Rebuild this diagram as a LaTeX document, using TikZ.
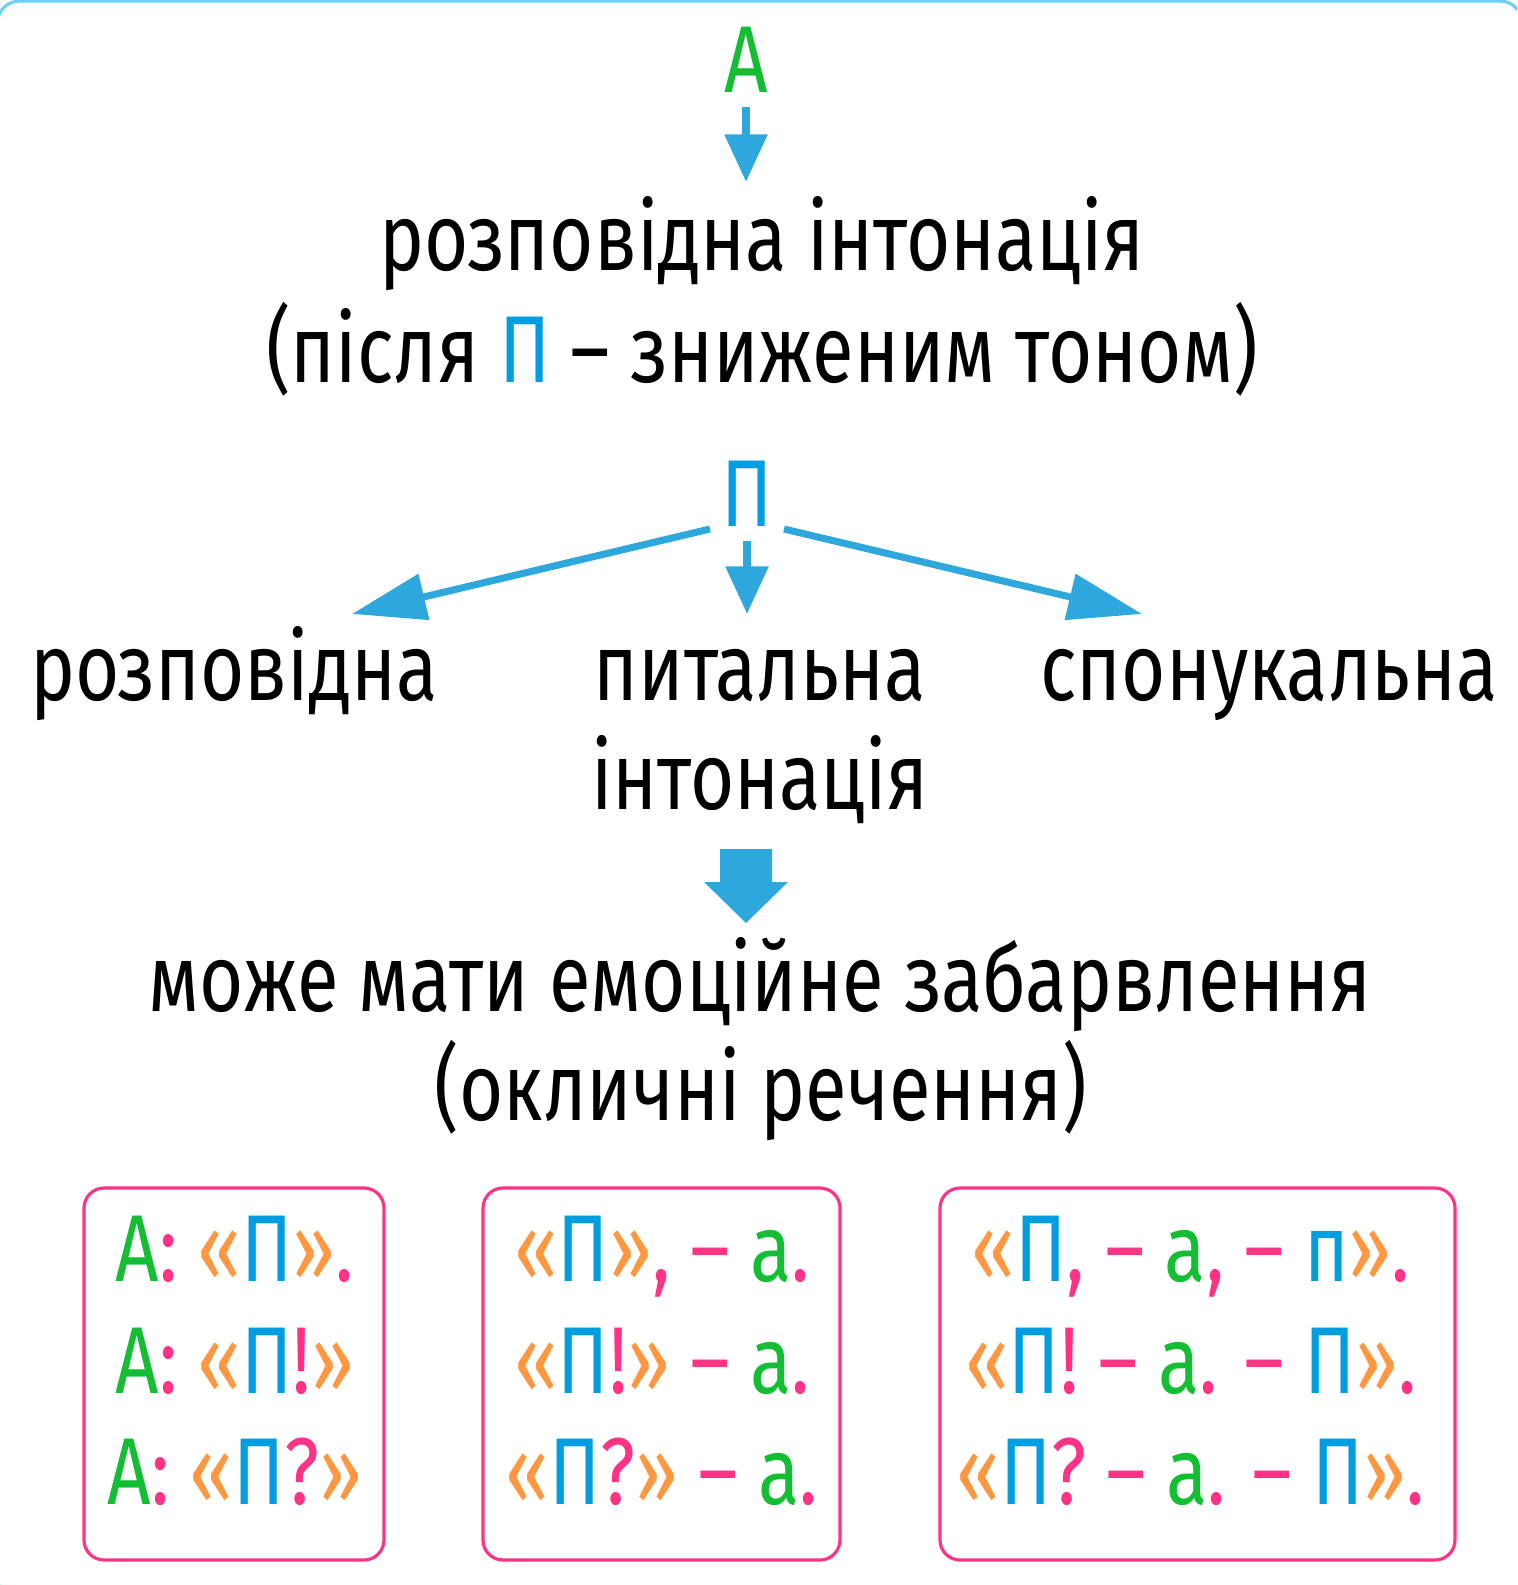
\documentclass[tikz,border=0pt]{standalone}
\usepackage{fontspec}
\setmainfont[FakeStretch=0.80]{Fira Sans}
\usetikzlibrary{arrows.meta}
\definecolor{agreen}{HTML}{14BE32}
\definecolor{pblue}{HTML}{009EE0}
\definecolor{arrblue}{HTML}{2EA8DC}
\definecolor{zpink}{HTML}{FF3385}
\definecolor{lorange}{HTML}{FF9640}
\definecolor{framecol}{HTML}{6ECFF6}
\newcommand\clrA[1]{\textcolor{agreen}{#1}}
\newcommand\clrP[1]{\textcolor{pblue}{#1}}
\newcommand\clrZ[1]{\textcolor{zpink}{#1}}
\newcommand\clrL[1]{\textcolor{lorange}{#1}}
\tikzset{
	txt/.style={inner sep=0pt,anchor=base},
	thinarr/.style={draw=arrblue,line width=2.3pt,-{Triangle[length=13.5pt,width=11.7pt]}},
	widearr/.style={draw=arrblue,line width=2pt,-{Triangle[length=21pt,width=13pt]}},
	exbox/.style={draw=zpink,line width=0.9pt,rounded corners=2mm},
}
\begin{document}
\begin{tikzpicture}[x=0.01cm,y=-0.01cm,line join=round,font=\fontsize{27}{32}\selectfont]
			\useasboundingbox (0,0) rectangle (1517,1585);
			\clip (0,0) rectangle (1517,1585);
			\draw[framecol,line width=0.9pt,rounded corners=2.2mm] (-2.5,1) rectangle (1522,1600);
			\node[txt] (aA) at (746,93) {\clrA{А}};
			\node[txt] (rozp) at (762,271) {розповідна інтонація};
			\node[txt] (pisl) at (762,382) {(після \clrP{П} – зниженим тоном)};
			\node[txt] (pp) at (747,526) {\clrP{П}};
			\node[txt] (rzl) at (234,700) {розповідна};
			\node[txt] (pyt) at (760,700) {питальна};
			\node[txt] (ints) at (760,809) {інтонація};
			\node[txt] (spn) at (1269,700) {спонукальна};
			\node[txt] (mozh) at (760,1011) {може мати емоційне забарвлення};
			\node[txt] (okl) at (761,1120) {(окличні речення)};
			\draw[thinarr] ([yshift=-0.14cm]aA.base) -- ([yshift=0.89cm]aA |- rozp.base);
			\draw[widearr] ([xshift=-0.37cm,yshift=-0.03cm]pp.base) -- ([xshift=1.18cm,yshift=0.86cm]rzl.base);
			\draw[thinarr] ([yshift=-0.15cm]pp.base) -- ([yshift=0.86cm]pp |- pyt.base);
			\draw[widearr] ([xshift=0.37cm,yshift=-0.03cm]pp.base) -- ([xshift=-1.27cm,yshift=0.86cm]spn.base);
			\fill[arrblue] (720,849) -- (772,849) -- (772,882) -- (788,882) -- (746,923) -- (704,882) -- (720,882) -- cycle;
			\draw[exbox] (84,1188) rectangle (384,1560);
			\draw[exbox] (483,1188) rectangle (840,1560);
			\draw[exbox] (940,1188) rectangle (1455,1560);
			\node[txt] (a1) at (235,1281) {\clrA{А}\clrZ{:} \clrL{«}\clrP{П}\clrL{»}\clrZ{.}};
			\node[txt] (a2) at (235,1393) {\clrA{А}\clrZ{:} \clrL{«}\clrP{П}\clrZ{!}\clrL{»}};
			\node[txt] (a3) at (235,1504) {\clrA{А}\clrZ{:} \clrL{«}\clrP{П}\clrZ{?}\clrL{»}};
			\node[txt] (b1) at (662,1281) {\clrL{«}\clrP{П}\clrL{»}\clrZ{, –} \clrA{а}\clrZ{.}};
			\node[txt] (b2) at (662,1393) {\clrL{«}\clrP{П}\clrZ{!}\clrL{»} \clrZ{–} \clrA{а}\clrZ{.}};
			\node[txt] (b3) at (662,1504) {\clrL{«}\clrP{П}\clrZ{?}\clrL{»} \clrZ{–} \clrA{а}\clrZ{.}};
			\node[txt] (c1) at (1191,1281) {\clrL{«}\clrP{П}\clrZ{, –} \clrA{а}\clrZ{, –} \clrP{п}\clrL{»}\clrZ{.}};
			\node[txt] (c2) at (1191,1393) {\clrL{«}\clrP{П}\clrZ{! –} \clrA{а}\clrZ{. –} \clrP{П}\clrL{»}\clrZ{.}};
			\node[txt] (c3) at (1191,1504) {\clrL{«}\clrP{П}\clrZ{? –} \clrA{а}\clrZ{. –} \clrP{П}\clrL{»}\clrZ{.}};
	\end{tikzpicture}
\end{document}
